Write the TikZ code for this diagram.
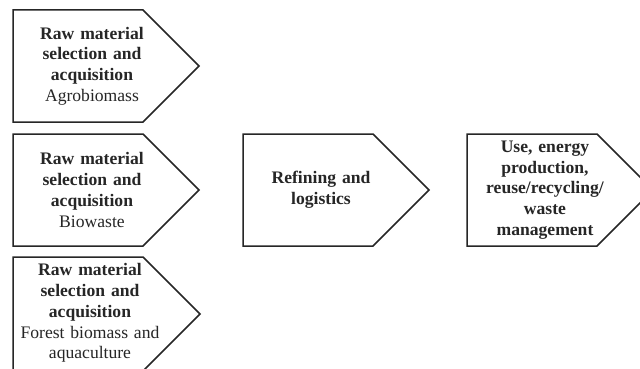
\documentclass[tikz,border=0pt]{standalone}
\usepackage{fontspec}
\setmainfont{Liberation Serif}
\newcommand{\stagehead}[1]{{\bfseries #1}\ignorespaces}

\tikzset{
    stage/.style={draw=black!85, line width=1.5pt, line join=miter, fill=white},
    stagetext/.style={align=center, text width=160pt, text=black!85, inner sep=0pt,
        font=\fontsize{17.6}{20.8}\selectfont}
}

\begin{document}
\begin{tikzpicture}[x=1pt, y=-1pt]
    \useasboundingbox (0,0) rectangle (640,369);
    \fill[white] (0,0) rectangle (640,369);
    \clip (0,0) rectangle (640,369);

    % raw material boxes
    \foreach \y in {10,134}
        \draw[stage] (13,\y) -- ++(130,0) -- ++(56,56) -- ++(-56,56) -- ++(-130,0) -- cycle;
    \draw[stage] (13,257) -- ++(130,0) -- ++(57,57) -- ++(-57,57) -- ++(-130,0) -- cycle;
    \node[stagetext] (agro) at (92,66) {\stagehead{Raw material\\selection and\\acquisition}\\Agrobiomass};
    \node[stagetext] (bio) at (92,190) {\stagehead{Raw material\\selection and\\acquisition}\\Biowaste};
    \node[stagetext] (forest) at (90,313) {\stagehead{Raw material\\selection and\\acquisition}\\Forest biomass and\\aquaculture};

    % refining
    \draw[stage] (243,134) -- ++(130,0) -- ++(56,56) -- ++(-56,56) -- ++(-130,0) -- cycle;
    \node[stagetext] (refine) at (321,190) {\stagehead{Refining and\\logistics}};

    % use and end of life
    \draw[stage] (467,134) -- ++(130,0) -- ++(56,56) -- ++(-56,56) -- ++(-130,0) -- cycle;
    \node[stagetext] (use) at (545,190) {\stagehead{Use, energy\\production,\\reuse/recycling/\\waste\\management}};
\end{tikzpicture}
\end{document}
